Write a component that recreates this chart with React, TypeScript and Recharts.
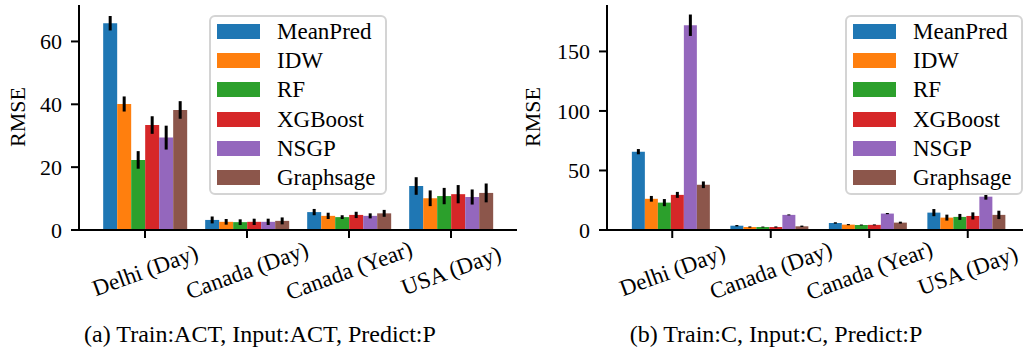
import { BarChart, Bar, XAxis, YAxis, ErrorBar, Legend } from 'recharts';

const categories = ['Delhi (Day)', 'Canada (Day)', 'Canada (Year)', 'USA (Day)'];
const methods = ['MeanPred', 'IDW', 'RF', 'XGBoost', 'NSGP', 'Graphsage'];
const colors = ['#1f77b4', '#ff7f0e', '#2ca02c', '#d62728', '#9467bd', '#8c564b'];

// (a) Train:ACT, Input:ACT, Predict:P
const aMeanPred = [65.8, 3.2, 5.7, 14.0];
const aIDW = [40.1, 2.6, 4.5, 10.1];
const aRF = [22.3, 2.5, 4.1, 10.8];
const aXGBoost = [33.4, 2.6, 4.8, 11.4];
const aNSGP = [29.4, 2.6, 4.5, 10.5];
const aGraphsage = [38.2, 2.9, 5.3, 11.8];
const aMeanPredErr = [2.3, 1.1, 1.0, 2.8];
const aIDWErr = [2.4, 0.9, 1.0, 2.5];
const aRFErr = [2.8, 0.9, 0.6, 2.6];
const aXGBoostErr = [2.8, 1.0, 1.0, 2.9];
const aNSGPErr = [3.8, 1.0, 0.8, 2.4];
const aGraphsageErr = [2.8, 1.1, 1.1, 3.0];

// (b) Train:C, Input:C, Predict:P
const bMeanPred = [65.8, 3.6, 5.9, 14.6];
const bIDW = [26.2, 2.5, 4.5, 10.4];
const bRF = [23.0, 2.5, 4.2, 11.0];
const bXGBoost = [29.5, 2.5, 4.3, 11.8];
const bNSGP = [172.0, 12.7, 13.8, 28.0];
const bGraphsage = [38.0, 3.1, 6.2, 12.7];
const bMeanPredErr = [2.2, 0.6, 0.6, 3.0];
const bIDWErr = [2.4, 0.5, 0.5, 2.5];
const bRFErr = [3.0, 0.4, 0.4, 2.5];
const bXGBoostErr = [2.5, 0.5, 0.4, 3.0];
const bNSGPErr = [9.0, 0.4, 0.5, 2.5];
const bGraphsageErr = [2.8, 0.6, 0.8, 3.5];

const aTicks = [0, 20, 40, 60];
const bTicks = [0, 50, 100, 150];

const FONT = '"Liberation Serif", "Times New Roman", serif';

const buildRows = (values: number[][], errors: number[][]) =>
  categories.map((category, i) => {
    const row: Record<string, string | number> = { category };
    methods.forEach((m, j) => {
      row[m] = values[j][i];
      row[`${m}_err`] = errors[j][i];
    });
    return row;
  });

const rowsA = buildRows(
  [aMeanPred, aIDW, aRF, aXGBoost, aNSGP, aGraphsage],
  [aMeanPredErr, aIDWErr, aRFErr, aXGBoostErr, aNSGPErr, aGraphsageErr]
);
const rowsB = buildRows(
  [bMeanPred, bIDW, bRF, bXGBoost, bNSGP, bGraphsage],
  [bMeanPredErr, bIDWErr, bRFErr, bXGBoostErr, bNSGPErr, bGraphsageErr]
);

const XTick = ({ x, y, payload }: any) => (
  <g transform={`translate(${x},${y + 30}) rotate(-20)`}>
    <text textAnchor="middle" dy="0.35em" fill="#000" fontFamily={FONT} fontSize={23}>
      {payload.value}
    </text>
  </g>
);

const LegendBox = () => (
  <div
    style={{
      width: 178,
      height: 180,
      boxSizing: 'border-box',
      border: '2px solid #d4d4d4',
      borderRadius: 6,
      background: 'rgba(255,255,255,0.8)',
      fontFamily: FONT,
      fontSize: 23,
      color: '#000',
    }}
  >
    {methods.map((m, i) => (
      <div key={m} style={{ display: 'flex', alignItems: 'center', height: 29.2 }}>
        <span style={{ display: 'inline-block', width: 43, height: 15, marginLeft: 6, background: colors[i] }} />
        <span style={{ marginLeft: 17, lineHeight: '23px' }}>{m}</span>
      </div>
    ))}
  </div>
);

interface PanelProps {
  rows: Record<string, string | number>[];
  yMax: number;
  ticks: number[];
  width: number;
  yAxisWidth: number;
  right: number;
  xPad: { left: number; right: number };
  legendLeft: number;
}

const Panel = ({ rows, yMax, ticks, width, yAxisWidth, right, xPad, legendLeft }: PanelProps) => (
  <BarChart
    width={width}
    height={347}
    data={rows}
    margin={{ top: 5, right, bottom: 0, left: 0 }}
    barCategoryGap="9%"
    barGap={0}
  >
    <XAxis
      dataKey="category"
      height={117}
      padding={xPad}
      axisLine={{ stroke: '#000', strokeWidth: 2 }}
      tickLine={{ stroke: '#000', strokeWidth: 2 }}
      tickSize={8}
      tickMargin={2}
      tick={<XTick />}
      interval={0}
    />
    <YAxis
      width={yAxisWidth}
      domain={[0, yMax]}
      ticks={ticks}
      axisLine={{ stroke: '#000', strokeWidth: 2 }}
      tickLine={{ stroke: '#000', strokeWidth: 2 }}
      tickSize={8}
      tickMargin={9}
      tick={{ fill: '#000', fontFamily: FONT, fontSize: 22 }}
      allowDataOverflow
    />
    <Legend
      layout="vertical"
      align="center"
      verticalAlign="middle"
      content={<LegendBox />}
      wrapperStyle={{ left: legendLeft, top: 15, width: 178, height: 180 }}
    />
    {methods.map((m, i) => (
      <Bar key={m} dataKey={m} fill={colors[i]} isAnimationActive={false}>
        <ErrorBar dataKey={`${m}_err`} width={0} stroke="#000" strokeWidth={3} direction="y" isAnimationActive={false} />
      </Bar>
    ))}
  </BarChart>
);

const overlayText: React.CSSProperties = {
  position: 'absolute',
  fontFamily: FONT,
  color: '#000',
  whiteSpace: 'nowrap',
};

export default function App() {
  return (
    <div style={{ position: 'absolute', left: 0, top: 0, width: 1025, height: 347, background: '#fff', overflow: 'hidden' }}>
      <div style={{ position: 'absolute', left: 0, top: 0 }}>
        <Panel
          rows={rowsA}
          yMax={71.6}
          ticks={aTicks}
          width={520}
          yAxisWidth={79}
          right={3}
          xPad={{ left: 15, right: 15 }}
          legendLeft={209}
        />
      </div>
      <div style={{ position: 'absolute', left: 520, top: 0 }}>
        <Panel
          rows={rowsB}
          yMax={189}
          ticks={bTicks}
          width={505}
          yAxisWidth={87}
          right={2}
          xPad={{ left: 16, right: 6 }}
          legendLeft={325}
        />
      </div>
      <div style={{ ...overlayText, left: 18, top: 117, fontSize: 22, transform: 'translate(-50%, -50%) rotate(-90deg)' }}>
        RMSE
      </div>
      <div style={{ ...overlayText, left: 533, top: 117, fontSize: 22, transform: 'translate(-50%, -50%) rotate(-90deg)' }}>
        RMSE
      </div>
      <div style={{ ...overlayText, left: 260, top: 334, fontSize: 24, transform: 'translate(-50%, -50%)' }}>
        (a) Train:ACT, Input:ACT, Predict:P
      </div>
      <div style={{ ...overlayText, left: 776, top: 334, fontSize: 24, transform: 'translate(-50%, -50%)' }}>
        (b) Train:C, Input:C, Predict:P
      </div>
    </div>
  );
}
